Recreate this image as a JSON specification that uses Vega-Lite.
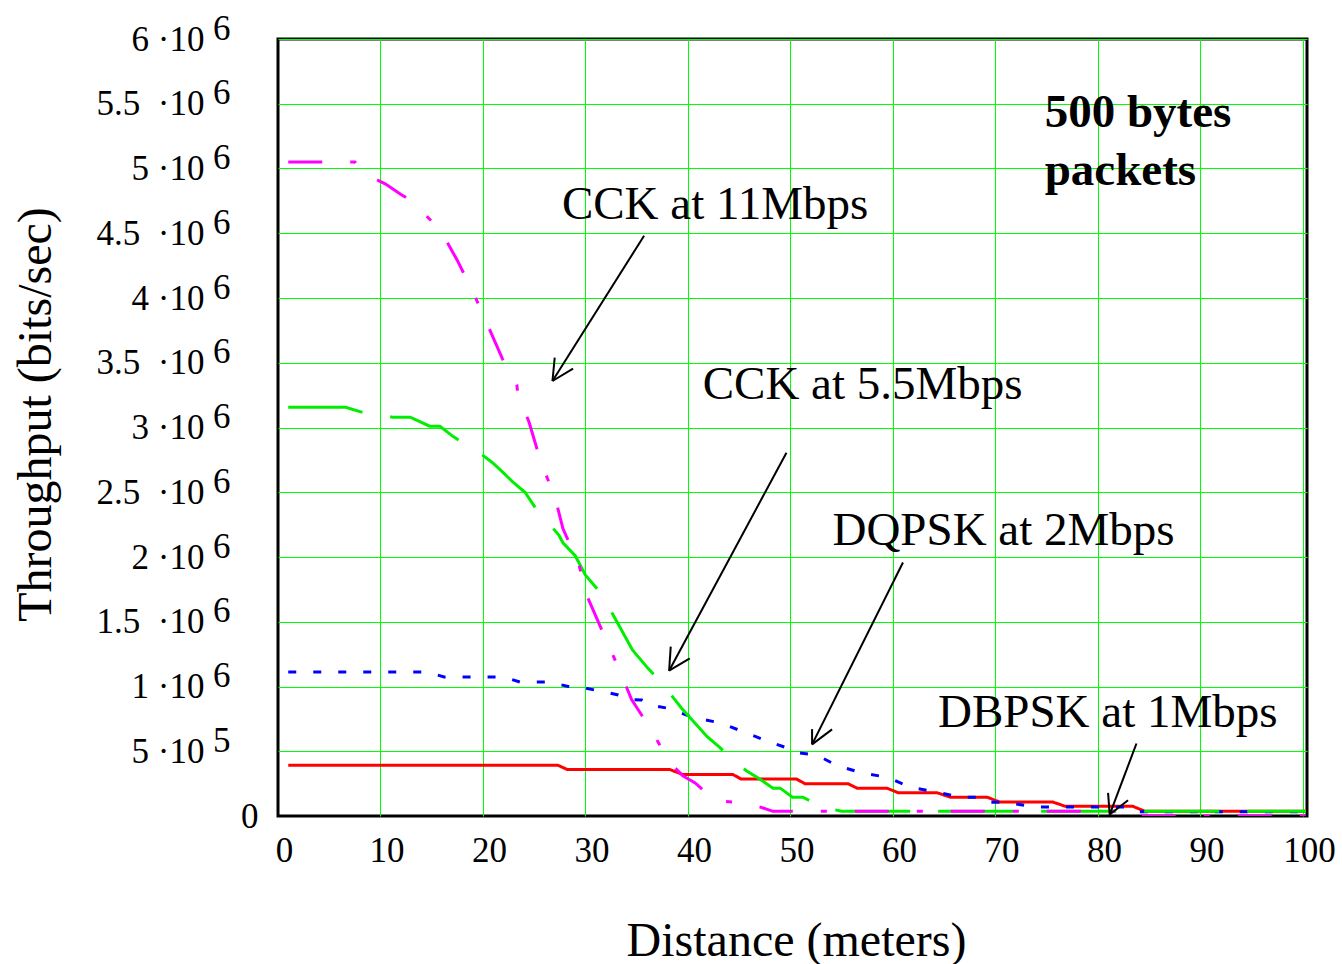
{
  "$schema": "https://vega.github.io/schema/vega-lite/v6.json",
  "width": 1029,
  "height": 777,
  "autosize": {"type": "none"},
  "padding": {"left": 278, "top": 39, "right": 35, "bottom": 148},
  "background": "white",
  "config": {
    "font": "Liberation Serif",
    "view": {"stroke": "black", "strokeWidth": 3},
    "axis": {"labelColor": "black", "titleColor": "black", "labelFont": "Liberation Serif", "titleFont": "Liberation Serif"}
  },
  "datasets": {
    "curves": [
      {"series": "DBPSK at 1Mbps", "distance": 1, "throughput": 392000},
      {"series": "DBPSK at 1Mbps", "distance": 27.3, "throughput": 392000},
      {"series": "DBPSK at 1Mbps", "distance": 28.2, "throughput": 360000},
      {"series": "DBPSK at 1Mbps", "distance": 38.2, "throughput": 360000},
      {"series": "DBPSK at 1Mbps", "distance": 39.5, "throughput": 320000},
      {"series": "DBPSK at 1Mbps", "distance": 44.4, "throughput": 320000},
      {"series": "DBPSK at 1Mbps", "distance": 45.2, "throughput": 285000},
      {"series": "DBPSK at 1Mbps", "distance": 50.6, "throughput": 285000},
      {"series": "DBPSK at 1Mbps", "distance": 51.4, "throughput": 250000},
      {"series": "DBPSK at 1Mbps", "distance": 55.6, "throughput": 250000},
      {"series": "DBPSK at 1Mbps", "distance": 56.5, "throughput": 215000},
      {"series": "DBPSK at 1Mbps", "distance": 59.4, "throughput": 215000},
      {"series": "DBPSK at 1Mbps", "distance": 60.5, "throughput": 180000},
      {"series": "DBPSK at 1Mbps", "distance": 64.3, "throughput": 180000},
      {"series": "DBPSK at 1Mbps", "distance": 65.6, "throughput": 145000},
      {"series": "DBPSK at 1Mbps", "distance": 69.2, "throughput": 145000},
      {"series": "DBPSK at 1Mbps", "distance": 70.4, "throughput": 108000},
      {"series": "DBPSK at 1Mbps", "distance": 75.6, "throughput": 108000},
      {"series": "DBPSK at 1Mbps", "distance": 76.8, "throughput": 75000},
      {"series": "DBPSK at 1Mbps", "distance": 83.4, "throughput": 75000},
      {"series": "DBPSK at 1Mbps", "distance": 84.6, "throughput": 36000},
      {"series": "DBPSK at 1Mbps", "distance": 100.3, "throughput": 36000},

      {"series": "DQPSK at 2Mbps", "distance": 1, "throughput": 1112000},
      {"series": "DQPSK at 2Mbps", "distance": 14.5, "throughput": 1112000},
      {"series": "DQPSK at 2Mbps", "distance": 16.2, "throughput": 1074000},
      {"series": "DQPSK at 2Mbps", "distance": 22, "throughput": 1074000},
      {"series": "DQPSK at 2Mbps", "distance": 23.6, "throughput": 1035000},
      {"series": "DQPSK at 2Mbps", "distance": 26.5, "throughput": 1035000},
      {"series": "DQPSK at 2Mbps", "distance": 28.3, "throughput": 1000000},
      {"series": "DQPSK at 2Mbps", "distance": 29.5, "throughput": 995000},
      {"series": "DQPSK at 2Mbps", "distance": 31.4, "throughput": 965000},
      {"series": "DQPSK at 2Mbps", "distance": 33.2, "throughput": 935000},
      {"series": "DQPSK at 2Mbps", "distance": 34.3, "throughput": 900000},
      {"series": "DQPSK at 2Mbps", "distance": 35.5, "throughput": 895000},
      {"series": "DQPSK at 2Mbps", "distance": 36.3, "throughput": 857000},
      {"series": "DQPSK at 2Mbps", "distance": 38.2, "throughput": 830000},
      {"series": "DQPSK at 2Mbps", "distance": 40.5, "throughput": 760000},
      {"series": "DQPSK at 2Mbps", "distance": 43.1, "throughput": 720000},
      {"series": "DQPSK at 2Mbps", "distance": 45.1, "throughput": 660000},
      {"series": "DQPSK at 2Mbps", "distance": 48, "throughput": 570000},
      {"series": "DQPSK at 2Mbps", "distance": 49.9, "throughput": 520000},
      {"series": "DQPSK at 2Mbps", "distance": 50.6, "throughput": 490000},
      {"series": "DQPSK at 2Mbps", "distance": 52.6, "throughput": 470000},
      {"series": "DQPSK at 2Mbps", "distance": 54.5, "throughput": 390000},
      {"series": "DQPSK at 2Mbps", "distance": 57.1, "throughput": 330000},
      {"series": "DQPSK at 2Mbps", "distance": 59.4, "throughput": 300000},
      {"series": "DQPSK at 2Mbps", "distance": 61.8, "throughput": 220000},
      {"series": "DQPSK at 2Mbps", "distance": 64.6, "throughput": 180000},
      {"series": "DQPSK at 2Mbps", "distance": 66.5, "throughput": 145000},
      {"series": "DQPSK at 2Mbps", "distance": 68.5, "throughput": 145000},
      {"series": "DQPSK at 2Mbps", "distance": 69.3, "throughput": 106000},
      {"series": "DQPSK at 2Mbps", "distance": 71.1, "throughput": 106000},
      {"series": "DQPSK at 2Mbps", "distance": 73.7, "throughput": 70000},
      {"series": "DQPSK at 2Mbps", "distance": 83, "throughput": 70000},
      {"series": "DQPSK at 2Mbps", "distance": 84, "throughput": 32000},
      {"series": "DQPSK at 2Mbps", "distance": 100.3, "throughput": 32000},

      {"series": "CCK at 5.5Mbps", "distance": 1, "throughput": 3156000},
      {"series": "CCK at 5.5Mbps", "distance": 6.6, "throughput": 3156000},
      {"series": "CCK at 5.5Mbps", "distance": 8.3, "throughput": 3115000},
      {"series": "CCK at 5.5Mbps", "distance": 11.2, "throughput": 3080000},
      {"series": "CCK at 5.5Mbps", "distance": 12.9, "throughput": 3080000},
      {"series": "CCK at 5.5Mbps", "distance": 14.8, "throughput": 3010000},
      {"series": "CCK at 5.5Mbps", "distance": 15.8, "throughput": 3010000},
      {"series": "CCK at 5.5Mbps", "distance": 17.1, "throughput": 2930000},
      {"series": "CCK at 5.5Mbps", "distance": 19.9, "throughput": 2790000},
      {"series": "CCK at 5.5Mbps", "distance": 20.9, "throughput": 2730000},
      {"series": "CCK at 5.5Mbps", "distance": 22, "throughput": 2650000},
      {"series": "CCK at 5.5Mbps", "distance": 22.9, "throughput": 2580000},
      {"series": "CCK at 5.5Mbps", "distance": 24.1, "throughput": 2500000},
      {"series": "CCK at 5.5Mbps", "distance": 25.2, "throughput": 2370000},
      {"series": "CCK at 5.5Mbps", "distance": 27.4, "throughput": 2170000},
      {"series": "CCK at 5.5Mbps", "distance": 27.8, "throughput": 2110000},
      {"series": "CCK at 5.5Mbps", "distance": 29, "throughput": 2010000},
      {"series": "CCK at 5.5Mbps", "distance": 30, "throughput": 1860000},
      {"series": "CCK at 5.5Mbps", "distance": 31.5, "throughput": 1720000},
      {"series": "CCK at 5.5Mbps", "distance": 33, "throughput": 1510000},
      {"series": "CCK at 5.5Mbps", "distance": 34.6, "throughput": 1280000},
      {"series": "CCK at 5.5Mbps", "distance": 36.1, "throughput": 1140000},
      {"series": "CCK at 5.5Mbps", "distance": 37.3, "throughput": 1040000},
      {"series": "CCK at 5.5Mbps", "distance": 39.4, "throughput": 830000},
      {"series": "CCK at 5.5Mbps", "distance": 41.9, "throughput": 610000},
      {"series": "CCK at 5.5Mbps", "distance": 43.1, "throughput": 530000},
      {"series": "CCK at 5.5Mbps", "distance": 44.4, "throughput": 430000},
      {"series": "CCK at 5.5Mbps", "distance": 45.7, "throughput": 350000},
      {"series": "CCK at 5.5Mbps", "distance": 47, "throughput": 285000},
      {"series": "CCK at 5.5Mbps", "distance": 48.3, "throughput": 215000},
      {"series": "CCK at 5.5Mbps", "distance": 49, "throughput": 215000},
      {"series": "CCK at 5.5Mbps", "distance": 50.2, "throughput": 145000},
      {"series": "CCK at 5.5Mbps", "distance": 51.2, "throughput": 145000},
      {"series": "CCK at 5.5Mbps", "distance": 53.1, "throughput": 70000},
      {"series": "CCK at 5.5Mbps", "distance": 55, "throughput": 36000},
      {"series": "CCK at 5.5Mbps", "distance": 100.3, "throughput": 36000},

      {"series": "CCK at 11Mbps", "distance": 1, "throughput": 5050000},
      {"series": "CCK at 11Mbps", "distance": 7.5, "throughput": 5050000},
      {"series": "CCK at 11Mbps", "distance": 8.2, "throughput": 4970000},
      {"series": "CCK at 11Mbps", "distance": 10.5, "throughput": 4880000},
      {"series": "CCK at 11Mbps", "distance": 12, "throughput": 4800000},
      {"series": "CCK at 11Mbps", "distance": 13, "throughput": 4750000},
      {"series": "CCK at 11Mbps", "distance": 15.8, "throughput": 4530000},
      {"series": "CCK at 11Mbps", "distance": 17.5, "throughput": 4290000},
      {"series": "CCK at 11Mbps", "distance": 19, "throughput": 4050000},
      {"series": "CCK at 11Mbps", "distance": 20.3, "throughput": 3820000},
      {"series": "CCK at 11Mbps", "distance": 21.9, "throughput": 3530000},
      {"series": "CCK at 11Mbps", "distance": 23.3, "throughput": 3330000},
      {"series": "CCK at 11Mbps", "distance": 23.4, "throughput": 3260000},
      {"series": "CCK at 11Mbps", "distance": 24.5, "throughput": 3040000},
      {"series": "CCK at 11Mbps", "distance": 25.7, "throughput": 2720000},
      {"series": "CCK at 11Mbps", "distance": 27, "throughput": 2470000},
      {"series": "CCK at 11Mbps", "distance": 27.8, "throughput": 2220000},
      {"series": "CCK at 11Mbps", "distance": 29.4, "throughput": 1930000},
      {"series": "CCK at 11Mbps", "distance": 30.2, "throughput": 1690000},
      {"series": "CCK at 11Mbps", "distance": 31.8, "throughput": 1400000},
      {"series": "CCK at 11Mbps", "distance": 33.3, "throughput": 1130000},
      {"series": "CCK at 11Mbps", "distance": 34.5, "throughput": 900000},
      {"series": "CCK at 11Mbps", "distance": 36.3, "throughput": 680000},
      {"series": "CCK at 11Mbps", "distance": 38.2, "throughput": 415000},
      {"series": "CCK at 11Mbps", "distance": 39.5, "throughput": 310000},
      {"series": "CCK at 11Mbps", "distance": 40.7, "throughput": 255000},
      {"series": "CCK at 11Mbps", "distance": 42.5, "throughput": 130000},
      {"series": "CCK at 11Mbps", "distance": 43.3, "throughput": 114000},
      {"series": "CCK at 11Mbps", "distance": 45.5, "throughput": 100000},
      {"series": "CCK at 11Mbps", "distance": 47, "throughput": 70000},
      {"series": "CCK at 11Mbps", "distance": 48.3, "throughput": 36000},
      {"series": "CCK at 11Mbps", "distance": 82.5, "throughput": 36000},
      {"series": "CCK at 11Mbps", "distance": 83.5, "throughput": 0},
      {"series": "CCK at 11Mbps", "distance": 100.3, "throughput": 0}
    ],
    "notes": [
      {"label": "CCK at 11Mbps", "distance": 27.7, "throughput": 4611000},
      {"label": "CCK at 5.5Mbps", "distance": 41.44, "throughput": 3218000},
      {"label": "DQPSK at 2Mbps", "distance": 54.1, "throughput": 2095000},
      {"label": "DBPSK at 1Mbps", "distance": 64.4, "throughput": 689000}
    ],
    "boxnote": [
      {"label": "500 bytes", "distance": 74.8, "throughput": 5320000},
      {"label": "packets", "distance": 74.8, "throughput": 4874000}
    ],
    "arrows": [
      {"distance": 35.72, "throughput": 4481000, "distance2": 26.78, "throughput2": 3359000},
      {"distance": 27.0, "throughput": 3540000, "distance2": 26.78, "throughput2": 3359000},
      {"distance": 28.79, "throughput": 3455000, "distance2": 26.78, "throughput2": 3359000},
      {"distance": 49.61, "throughput": 2805000, "distance2": 38.16, "throughput2": 1122000},
      {"distance": 38.32, "throughput": 1308000, "distance2": 38.16, "throughput2": 1122000},
      {"distance": 40.18, "throughput": 1218000, "distance2": 38.16, "throughput2": 1122000},
      {"distance": 60.98, "throughput": 1958000, "distance2": 52.11, "throughput2": 553000},
      {"distance": 52.11, "throughput": 671000, "distance2": 52.11, "throughput2": 553000},
      {"distance": 54.06, "throughput": 669000, "distance2": 52.11, "throughput2": 553000},
      {"distance": 83.76, "throughput": 560000, "distance2": 81.15, "throughput2": 11000},
      {"distance": 80.99, "throughput": 178000, "distance2": 81.15, "throughput2": 11000},
      {"distance": 82.94, "throughput": 121500, "distance2": 81.15, "throughput2": 11000}
    ]
  },
  "encoding": {
    "x": {
      "field": "distance",
      "type": "quantitative",
      "scale": {"domain": [0, 100.4], "nice": false, "zero": false},
      "axis": {
        "values": [0, 10, 20, 30, 40, 50, 60, 70, 80, 90, 100],
        "labelFontSize": 35,
        "labelOffset": 6,
        "labelPadding": 17,
        "labelFlush": false,
        "labelOverlap": false,
        "ticks": false,
        "domain": false,
        "grid": true,
        "gridColor": "#00ff00",
        "gridWidth": 1,
        "gridOpacity": {"condition": {"test": "datum.value == 0", "value": 0}, "value": 1},
        "title": "Distance (meters)",
        "titleFontSize": 48,
        "titleFontWeight": "normal",
        "titleX": 518,
        "titleY": 139,
        "titleAlign": "center",
        "titleBaseline": "alphabetic"
      }
    }
  },
  "layer": [
    {
      "data": {"name": "curves"},
      "mark": {"type": "line", "strokeWidth": 3, "strokeCap": "butt", "clip": true},
      "encoding": {
        "y": {
          "field": "throughput",
          "type": "quantitative",
          "scale": {"domain": [0, 6000000], "nice": false},
          "axis": {
            "orient": "left",
            "values": [0, 500000, 1000000, 1500000, 2000000, 2500000, 3000000, 3500000, 4000000, 4500000, 5000000, 5500000, 6000000],
            "labelExpr": "datum.value == 0 ? '' : (datum.value == 500000 ? '5\u00a0·10' : (datum.value % 1000000 == 0 ? (datum.value / 1000000) + '\u00a0·10' : (datum.value / 1000000) + '\u00a0\u00a0·10'))",
            "labelFontSize": 35,
            "labelPadding": 74,
            "labelAlign": "right",
            "labelBaseline": "middle",
            "labelFlush": false,
            "labelOverlap": false,
            "ticks": false,
            "domain": false,
            "grid": true,
            "gridColor": "#00ff00",
            "gridWidth": 1,
            "gridOpacity": {"condition": {"test": "datum.value == 0", "value": 0}, "value": 1},
            "title": "Throughput (bits/sec)",
            "titleFontSize": 48,
            "titleFontWeight": "normal",
            "titleAngle": -90,
            "titleX": -228,
            "titleY": 375,
            "titleAlign": "center",
            "titleBaseline": "alphabetic"
          }
        },
        "color": {
          "field": "series",
          "type": "nominal",
          "scale": {"domain": ["DBPSK at 1Mbps", "DQPSK at 2Mbps", "CCK at 5.5Mbps", "CCK at 11Mbps"], "range": ["#ff0000", "#0000ff", "#00ee00", "#ff00ff"]},
          "legend": null
        },
        "strokeDash": {
          "field": "series",
          "type": "nominal",
          "scale": {"domain": ["DBPSK at 1Mbps", "DQPSK at 2Mbps", "CCK at 5.5Mbps", "CCK at 11Mbps"], "range": [[1, 0], [8, 17], [75, 28], [34, 28, 6, 28]]},
          "legend": null
        }
      }
    },
    {
      "data": {"name": "arrows"},
      "mark": {"type": "rule", "strokeWidth": 2, "color": "black"},
      "encoding": {
        "y": {"field": "throughput", "type": "quantitative", "axis": null},
        "x2": {"field": "distance2"},
        "y2": {"field": "throughput2"}
      }
    },
    {
      "data": {"name": "notes"},
      "mark": {"type": "text", "align": "left", "baseline": "alphabetic", "fontSize": 47, "color": "black", "font": "Liberation Serif"},
      "encoding": {
        "y": {
          "field": "throughput",
          "type": "quantitative",
          "axis": {
            "orient": "left",
            "values": [0, 500000, 1000000, 1500000, 2000000, 2500000, 3000000, 3500000, 4000000, 4500000, 5000000, 5500000, 6000000],
            "labelExpr": "datum.value == 0 ? '0' : (datum.value == 500000 ? '5' : '6')",
            "labelFontSize": 35,
            "labelPadding": {"condition": {"test": "datum.value == 0", "value": 20}, "value": 48},
            "labelOffset": {"condition": {"test": "datum.value == 0", "value": 0}, "value": -11},
            "labelAlign": "right",
            "labelBaseline": "middle",
            "labelFlush": false,
            "labelOverlap": false,
            "ticks": false,
            "domain": false,
            "grid": false,
            "title": null
          }
        },
        "text": {"field": "label"}
      }
    },
    {
      "data": {"name": "boxnote"},
      "mark": {"type": "text", "align": "left", "baseline": "alphabetic", "fontSize": 47, "fontWeight": "bold", "color": "black", "font": "Liberation Serif"},
      "encoding": {
        "y": {"field": "throughput", "type": "quantitative", "axis": null},
        "text": {"field": "label"}
      }
    }
  ],
  "resolve": {"axis": {"y": "independent"}}
}
